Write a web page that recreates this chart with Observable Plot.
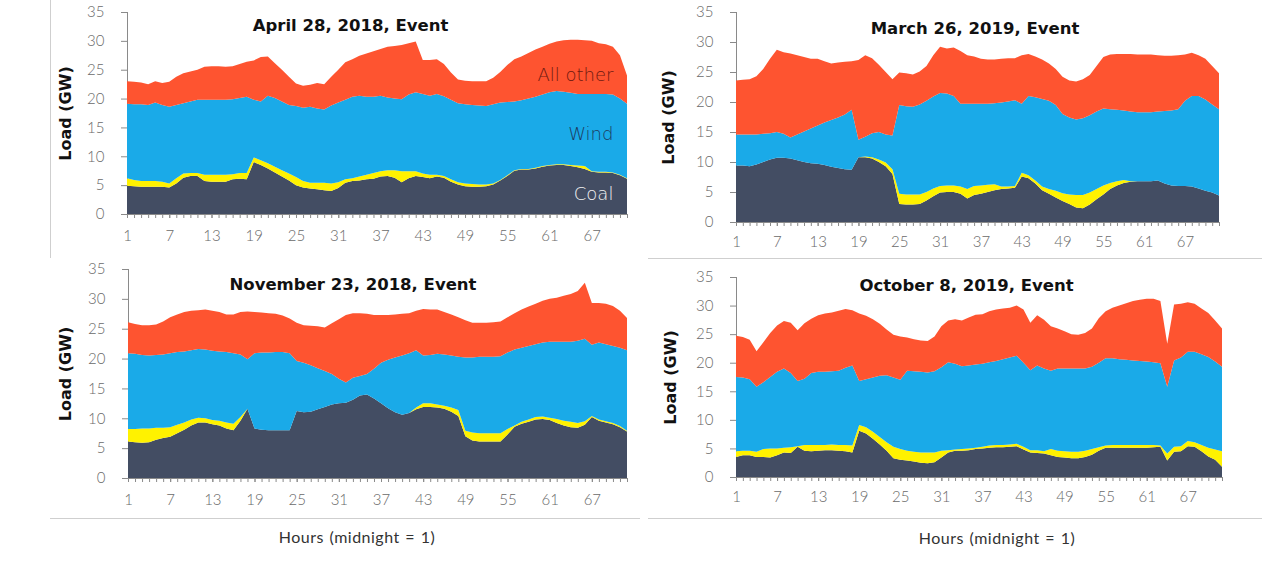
<!DOCTYPE html>
<html>
<head>
<meta charset="utf-8">
<script src="https://cdn.jsdelivr.net/npm/d3@7"></script>
<script src="https://cdn.jsdelivr.net/npm/@observablehq/plot@0.6"></script>
<style>
  html, body { margin: 0; padding: 0; background: #fff; }
  body { width: 1280px; height: 571px; position: relative; overflow: hidden; }
  .panel { position: absolute; }
  .rule { position: absolute; background: #cfcfcf; }
  .xlab { position: absolute; transform: translate(-50%, -50%); white-space: nowrap;
          font-family: Lato, "Open Sans", sans-serif; font-weight: 400; font-size: 16px;
          letter-spacing: 0.5px; word-spacing: 1px; color: #333; }
</style>
</head>
<body>
<div class="rule" style="left:50px;top:0;width:1px;height:258px"></div>
<div class="rule" style="left:648px;top:258px;width:614px;height:1px"></div>
<div class="rule" style="left:50px;top:518px;width:590px;height:1px"></div>
<div class="rule" style="left:648px;top:518px;width:614px;height:1px"></div>
<div class="xlab" style="left:357px;top:536px">Hours (midnight = 1)</div>
<div class="xlab" style="left:997px;top:537px">Hours (midnight = 1)</div>
<script>
// ---- categories / ticks ----
const hours = d3.range(1, 73);
const xTickLabels = [1, 7, 13, 19, 25, 31, 37, 43, 49, 55, 61, 67];
const yTicks = [0, 5, 10, 15, 20, 25, 30, 35];
const seriesNames = ["Coal", "Gas", "Wind", "All other"];
const seriesColors = ["#434d63", "#fff200", "#1aaae8", "#fe5430"];
const labelledSeries = ["Coal", "Wind", "All other"];
const labelColors = ["#f2f2f2", "#1d3a60", "#6e1a10"];
const titles = ["April 28, 2018, Event", "March 26, 2019, Event", "November 23, 2018, Event", "October 8, 2019, Event"];

// ---- stack boundaries (GW), hours 1..72 ----
// April 28, 2018
const apr18_coal = [4.9,4.8,4.7,4.7,4.7,4.7,4.6,5.3,6.3,6.6, 6.6,5.7,5.6,5.6,5.6,6.0,6.1,6.0,9.0,8.5,
  7.9,7.2,6.5,5.8,5.0,4.6,4.4,4.3,4.1,4.0, 4.5,5.4,5.7,5.8,6.0,6.1,6.5,6.6,6.3,5.5,
  6.2,6.6,6.4,6.2,6.5,6.3,5.6,5.1,4.8,4.7, 4.7,4.8,5.1,5.8,6.6,7.5,7.7,7.7,7.9,8.2,
  8.4,8.5,8.5,8.3,8.1,7.8,7.3,7.2,7.2,7.1, 6.7,6.1];
const apr18_gasTop = [6.2,5.9,5.7,5.7,5.7,5.6,5.3,6.2,7.0,7.1, 7.1,6.8,6.8,6.8,6.8,6.9,7.1,7.1,9.8,9.3,
  8.8,8.2,7.6,7.0,6.4,5.7,5.4,5.4,5.4,5.3, 5.5,6.0,6.2,6.5,6.8,7.1,7.4,7.6,7.6,7.4,
  7.4,7.4,7.0,6.8,6.8,6.6,6.0,5.5,5.3,5.2, 5.1,5.1,5.3,5.9,6.7,7.6,7.8,7.8,8.0,8.3,
  8.5,8.6,8.6,8.5,8.4,8.3,7.4,7.3,7.3,7.2, 6.8,6.2];
const apr18_windTop = [19.1,19.0,19.0,18.9,19.3,18.9,18.6,18.9,19.2,19.5, 19.8,19.8,19.8,19.8,19.8,19.9,20.1,20.3,19.8,19.5,
  20.5,20.1,19.5,18.9,18.7,18.4,18.6,18.3,18.1,18.8, 19.3,19.8,20.3,20.5,20.3,20.3,20.5,20.2,20.0,19.9,
  20.7,21.1,20.8,20.5,20.8,20.4,19.8,19.2,19.0,18.9, 18.8,18.7,19.0,19.3,19.4,19.5,19.7,20.0,20.3,20.7,
  21.1,21.3,21.2,21.0,20.8,20.8,20.8,20.8,20.8,20.7, 20.0,19.1];
const apr18_total = [23.0,22.9,22.8,22.5,23.0,22.7,22.9,23.8,24.4,24.7, 25.0,25.5,25.6,25.6,25.5,25.6,26.0,26.4,26.6,27.2,
  27.3,26.1,25.0,23.8,22.6,22.2,22.4,22.7,22.5,23.8, 25.0,26.3,26.8,27.4,27.8,28.2,28.6,29.0,29.1,29.3,
  29.6,29.9,26.7,26.7,26.8,26.0,24.5,23.3,23.1,23.0, 23.0,23.0,23.6,24.6,25.8,26.8,27.3,27.9,28.5,29.0,
  29.5,29.9,30.1,30.2,30.2,30.1,30.0,29.6,29.4,29.0, 27.5,24.0];

// March 26, 2019
const mar19_coal = [9.4,9.4,9.3,9.6,10.0,10.4,10.7,10.7,10.6,10.3, 10.0,9.8,9.7,9.5,9.2,9.0,8.8,8.7,10.8,10.8,
  10.6,10.0,9.3,8.0,3.0,2.9,2.9,3.0,3.6,4.3, 4.9,5.0,5.0,4.7,3.9,4.5,4.7,5.0,5.3,5.5,
  5.6,5.7,7.6,7.3,6.4,5.3,4.7,4.1,3.5,3.0, 2.4,2.3,2.9,3.8,4.6,5.5,6.1,6.5,6.7,6.8,
  6.8,6.8,6.9,6.4,6.1,6.0,6.0,5.9,5.6,5.2, 4.9,4.4];
const mar19_gasTop = [9.4,9.4,9.3,9.6,10.0,10.4,10.7,10.7,10.6,10.3, 10.0,9.8,9.7,9.5,9.2,9.0,8.8,8.7,10.8,10.9,
  10.8,10.4,9.9,8.8,4.7,4.6,4.6,4.6,5.0,5.6, 6.0,6.1,6.1,5.9,5.5,6.0,6.1,6.2,6.3,5.9,
  5.9,6.0,8.2,7.8,6.9,5.9,5.5,5.2,4.8,4.6, 4.5,4.5,4.9,5.5,6.1,6.5,6.8,7.0,6.8,6.8,
  6.8,6.8,6.9,6.4,6.1,6.0,6.0,5.9,5.6,5.2, 4.9,4.4];
const mar19_windTop = [14.6,14.6,14.6,14.6,14.7,14.8,15.0,14.7,14.1,14.6, 15.1,15.6,16.1,16.6,17.0,17.4,17.9,18.7,13.7,14.2,
  14.8,15.0,14.6,14.4,19.5,19.3,19.2,19.6,20.2,20.9, 21.5,21.4,21.0,19.7,19.7,19.7,19.7,19.7,19.8,19.9,
  20.1,20.3,19.7,21.0,20.8,20.5,20.2,19.5,18.0,17.4, 17.1,17.3,17.8,18.4,18.9,18.8,18.7,18.6,18.4,18.3,
  18.3,18.3,18.4,18.5,18.6,18.8,20.2,21.0,21.0,20.4, 19.6,18.8];
const mar19_total = [23.6,23.7,23.8,24.3,25.5,27.2,28.7,28.3,28.1,27.8, 27.5,27.2,27.2,26.8,26.4,26.6,26.7,26.8,27.0,27.8,
  27.3,26.2,25.0,23.8,24.9,24.8,24.6,25.1,26.0,27.8, 29.2,28.9,29.1,28.5,27.8,27.6,27.2,27.1,27.1,27.2,
  27.3,27.3,27.8,28.0,27.6,27.1,26.4,25.5,24.2,23.6, 23.4,23.8,24.5,26.0,27.5,27.9,28.0,28.0,28.0,27.9,
  27.9,27.9,27.8,27.7,27.7,27.8,27.9,28.2,27.8,27.2, 26.0,24.8];

// November 23, 2018
const nov18_coal = [6.1,6.0,5.9,6.0,6.4,6.7,6.9,7.5,8.1,8.8, 9.3,9.3,9.0,8.8,8.3,8.0,9.6,11.6,8.3,8.1,
  8.0,8.0,8.0,8.0,11.2,11.0,11.1,11.5,11.9,12.3, 12.5,12.6,13.1,13.8,14.0,13.3,12.5,11.7,11.0,10.6,
  10.9,11.5,11.9,11.9,11.8,11.6,11.1,10.4,7.0,6.3, 6.1,6.1,6.1,6.1,7.3,8.6,9.1,9.4,9.8,9.9,
  9.7,9.2,8.8,8.5,8.4,8.9,10.2,9.6,9.3,9.0, 8.5,7.8];
const nov18_gasTop = [8.2,8.2,8.3,8.3,8.4,8.4,8.5,8.9,9.3,9.8, 10.1,10.0,9.7,9.6,9.3,9.1,10.2,11.6,8.3,8.1,
  8.0,8.0,8.0,8.0,11.2,11.0,11.1,11.5,11.9,12.3, 12.5,12.6,13.1,13.8,14.0,13.3,12.5,11.7,11.0,10.6,
  10.9,11.8,12.5,12.5,12.3,12.1,11.8,11.4,7.9,7.6, 7.5,7.5,7.5,7.5,8.2,8.8,9.4,9.8,10.2,10.3,
  10.1,9.9,9.6,9.4,9.2,9.5,10.4,9.8,9.5,9.2, 8.7,7.9];
const nov18_windTop = [20.9,20.8,20.6,20.5,20.6,20.7,20.9,21.1,21.2,21.4, 21.6,21.5,21.3,21.2,21.1,20.9,20.7,19.9,20.9,21.0,
  21.0,21.1,21.1,20.9,19.6,19.3,18.9,18.4,17.9,17.4, 16.6,16.0,16.8,17.1,17.4,18.3,19.3,19.8,20.2,20.5,
  20.9,21.4,20.5,20.6,20.8,20.7,20.5,20.3,20.2,20.2, 20.3,20.3,20.3,20.4,21.0,21.5,21.8,22.1,22.4,22.7,
  22.8,22.8,22.8,22.8,23.0,23.3,22.3,22.7,22.4,22.1, 21.8,21.4];
const nov18_total = [26.1,25.8,25.6,25.6,25.7,26.2,26.9,27.4,27.8,28.0, 28.1,28.2,28.0,27.8,27.4,27.4,27.8,27.9,27.8,27.7,
  27.6,27.5,27.2,26.7,26.0,25.6,25.5,25.4,25.2,25.9, 26.6,27.3,27.6,27.6,27.5,27.3,27.3,27.3,27.4,27.5,
  27.6,28.0,28.3,28.2,28.2,27.8,27.4,26.9,26.4,26.0, 26.0,26.0,26.1,26.2,26.9,27.6,28.2,28.7,29.2,29.7,
  30.0,30.2,30.5,30.8,31.3,32.7,29.3,29.3,29.2,28.8, 28.0,26.8];

// October 8, 2019
const oct19_coal = [3.5,3.8,3.8,3.5,3.5,3.4,3.8,4.3,4.2,5.3, 4.6,4.5,4.6,4.7,4.7,4.6,4.5,4.3,8.1,7.6,
  6.7,5.7,4.6,3.3,3.0,2.9,2.7,2.5,2.4,2.6, 3.4,4.3,4.6,4.6,4.7,4.9,5.0,5.1,5.2,5.2,
  5.3,5.4,4.8,4.3,4.2,4.1,3.8,3.5,3.4,3.3, 3.3,3.5,3.9,4.6,5.1,5.1,5.1,5.1,5.1,5.1,
  5.1,5.2,5.3,2.9,4.4,4.5,5.4,5.3,4.5,3.6, 3.0,1.8];
const oct19_gasTop = [4.5,4.6,4.6,4.4,4.9,5.0,5.0,5.1,5.2,5.4, 5.6,5.6,5.6,5.6,5.7,5.6,5.6,5.5,9.1,8.7,
  7.9,7.0,6.1,5.3,4.9,4.6,4.4,4.3,4.3,4.3, 4.6,4.7,4.8,4.9,5.0,5.1,5.3,5.5,5.6,5.6,
  5.7,5.8,5.3,4.7,4.7,4.5,4.9,4.6,4.5,4.4, 4.4,4.6,4.9,5.2,5.5,5.6,5.6,5.6,5.6,5.6,
  5.6,5.6,5.5,4.1,5.3,5.4,6.3,6.1,5.6,5.1, 4.8,4.5];
const oct19_windTop = [17.5,17.4,17.1,15.8,16.6,17.5,18.4,19.0,18.2,16.8, 17.2,18.2,18.4,18.4,18.5,18.6,19.1,19.5,16.8,17.1,
  17.4,17.7,17.8,17.4,17.0,18.6,18.5,18.4,18.3,18.5, 19.2,20.1,19.8,19.4,19.5,19.7,19.8,20.1,20.3,20.6,
  20.9,21.2,20.0,18.7,19.5,19.0,18.6,19.0,19.0,19.0, 19.0,19.0,19.3,20.0,20.8,20.8,20.6,20.5,20.4,20.3,
  20.2,20.1,19.9,15.8,20.4,20.9,21.9,21.9,21.5,21.0, 20.2,19.3];
const oct19_total = [24.7,24.5,24.0,22.0,23.6,25.2,26.5,27.3,27.0,25.7, 26.9,27.7,28.3,28.6,28.8,29.1,29.4,29.2,28.6,28.2,
  27.6,26.8,25.8,24.9,24.6,24.4,24.1,23.9,23.8,24.6, 26.4,27.4,27.6,27.4,27.9,28.4,28.5,29.0,29.3,29.5,
  29.6,30.0,29.3,27.0,28.3,27.5,26.4,26.0,25.5,25.0, 24.9,25.2,26.0,27.8,29.0,29.6,30.0,30.4,30.8,31.0,
  31.2,31.2,30.8,23.3,30.2,30.3,30.6,30.3,29.5,28.7, 27.4,26.0];

// ---- per-series values from the boundaries ----
function tidy(coal, gasTop, windTop, total) {
  const rows = [];
  hours.forEach((h, i) => {
    const vals = [coal[i], gasTop[i] - coal[i], windTop[i] - gasTop[i], total[i] - windTop[i]];
    vals.forEach((v, k) => rows.push({hour: h, series: seriesNames[k], value: Math.max(0, v)}));
  });
  return rows;
}

const panels = [
  {rows: tidy(apr18_coal, apr18_gasTop, apr18_windTop, apr18_total), title: titles[0],
   left: 0, top: 0, width: 640, height: 258, mL: 127, mR: 13, mT: 12, mB: 44, tp: 12,
   tdx: -27, tdy: 13, ldx: -62, showLabels: true, bounds: [apr18_coal, apr18_gasTop, apr18_windTop, apr18_total]},
  {rows: tidy(mar19_coal, mar19_gasTop, mar19_windTop, mar19_total), title: titles[1],
   left: 640, top: 0, width: 640, height: 258, mL: 96, mR: 61, mT: 12, mB: 36, tp: 10,
   tdx: -3, tdy: 16, ldx: -68, showLabels: false},
  {rows: tidy(nov18_coal, nov18_gasTop, nov18_windTop, nov18_total), title: titles[2],
   left: 0, top: 258, width: 640, height: 313, mL: 128, mR: 13, mT: 11, mB: 93, tp: 12,
   tdx: -25, tdy: 15, ldx: -63, showLabels: false},
  {rows: tidy(oct19_coal, oct19_gasTop, oct19_windTop, oct19_total), title: titles[3],
   left: 640, top: 258, width: 640, height: 313, mL: 96, mR: 58, mT: 19, mB: 94, tp: 10,
   tdx: -13, tdy: 8, ldx: -66, showLabels: false}
];

const labelHour = 70;

panels.forEach(p => {
  const marks = [
    Plot.ruleX([hours[0]], {stroke: "#8a8a8a", strokeWidth: 1}),
    Plot.areaY(p.rows, {x: "hour", y: "value", fill: "series", order: seriesNames, curve: "linear"}),
    Plot.ruleY([0], {stroke: "#8a8a8a", strokeWidth: 1}),
    Plot.axisY({ticks: yTicks, tickSize: 6, tickPadding: 17, fontSize: 15, color: "#6a6a6a", stroke: "#8a8a8a", label: null}),
    Plot.axisX({ticks: hours, tickSize: 4, text: null, stroke: "#8a8a8a", label: null}),
    Plot.axisX({ticks: xTickLabels, tickSize: 4, tickPadding: p.tp, fontSize: 15, color: "#6a6a6a", stroke: "#8a8a8a", label: null}),
    Plot.text([p.title], {frameAnchor: "top", dx: p.tdx, dy: p.tdy, lineAnchor: "middle",
      fontFamily: "DejaVu Sans", fontWeight: "bold", fontSize: 16.5, fill: "#111"}),
    Plot.text(["Load (GW)"], {frameAnchor: "left", dx: p.ldx, rotate: -90, textAnchor: "middle", lineAnchor: "middle",
      fontFamily: "DejaVu Sans", fontWeight: "bold", fontSize: 16, fill: "#111"})
  ];
  if (p.showLabels) {
    const i = hours.indexOf(labelHour);
    const [c, g, w, t] = p.bounds;
    const lab = [
      {name: labelledSeries[0], hour: labelHour, y: c[i] / 2, color: labelColors[0], dy: 0},
      {name: labelledSeries[1], hour: labelHour, y: (g[i] + w[i]) / 2, color: labelColors[1], dy: 0},
      {name: labelledSeries[2], hour: labelHour, y: (w[i] + t[i]) / 2, color: labelColors[2], dy: 4}
    ];
    lab.forEach(l => marks.push(Plot.text([l], {x: "hour", y: "y", text: "name", dy: l.dy, textAnchor: "end",
      lineAnchor: "middle", fill: l.color, fontFamily: "DejaVu Sans", fontSize: 18})));
  }
  const svg = Plot.plot({
    width: p.width, height: p.height,
    marginLeft: p.mL, marginRight: p.mR, marginTop: p.mT, marginBottom: p.mB,
    x: {type: "linear", domain: [hours[0], hours[hours.length - 1]]},
    y: {domain: [yTicks[0], yTicks[yTicks.length - 1]]},
    color: {domain: seriesNames, range: seriesColors},
    style: {fontFamily: "Lato, 'Open Sans', sans-serif", fontWeight: 300, background: "transparent", overflow: "visible"},
    marks
  });
  svg.classList.add("panel");
  svg.style.left = p.left + "px";
  svg.style.top = p.top + "px";
  svg.style.position = "absolute";
  document.body.appendChild(svg);
});
</script>
</body>
</html>
